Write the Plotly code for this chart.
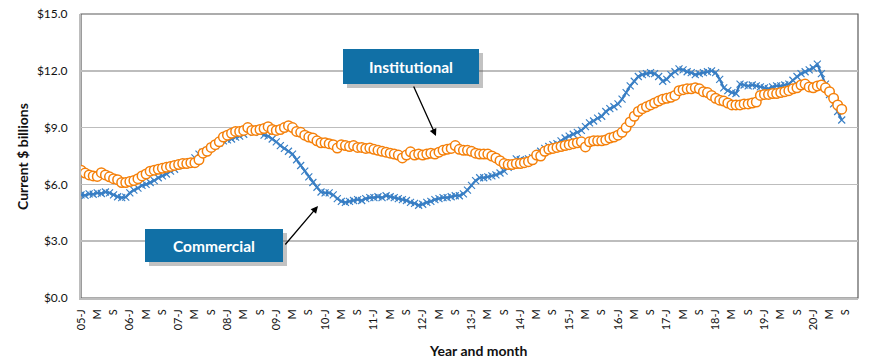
import plotly.graph_objects as go

# ---------------- data (monthly, Jan 2005 .. Aug 2020) ----------------
commercial = [
    # 2005
    5.45, 5.42, 5.50, 5.48, 5.55, 5.52, 5.60, 5.55, 5.45, 5.35, 5.30, 5.33,
    # 2006
    5.55, 5.70, 5.80, 5.95, 6.00, 6.10, 6.20, 6.35, 6.45, 6.55, 6.70, 6.80,
    # 2007
    7.00, 7.10, 7.15, 7.20, 7.40, 7.60, 7.70, 7.80, 7.95, 8.05, 8.20, 8.30,
    # 2008
    8.35, 8.40, 8.50, 8.55, 8.65, 8.75, 8.90, 8.85, 8.75, 8.60, 8.55, 8.40,
    # 2009
    8.25, 8.05, 7.90, 7.75, 7.60, 7.30, 7.00, 6.70, 6.40, 6.10, 5.85, 5.60,
    # 2010
    5.55, 5.55, 5.45, 5.25, 5.10, 5.05, 5.10, 5.15, 5.20, 5.15, 5.25, 5.30,
    # 2011
    5.30, 5.35, 5.30, 5.40, 5.35, 5.30, 5.25, 5.20, 5.15, 5.05, 5.00, 4.90,
    # 2012
    4.95, 5.05, 5.10, 5.20, 5.25, 5.30, 5.30, 5.35, 5.40, 5.40, 5.50, 5.70,
    # 2013
    5.95, 6.20, 6.35, 6.35, 6.40, 6.45, 6.50, 6.60, 6.70, 6.90, 7.10, 7.35,
    # 2014
    7.30, 7.25, 7.35, 7.40, 7.50, 7.75, 7.90, 8.00, 8.10, 8.15, 8.30, 8.45,
    # 2015
    8.55, 8.65, 8.75, 8.85, 9.05, 9.25, 9.35, 9.50, 9.60, 9.85, 10.00, 10.10,
    # 2016
    10.25, 10.50, 10.85, 11.20, 11.45, 11.70, 11.80, 11.85, 11.90, 11.85, 11.70, 11.45,
    # 2017
    11.55, 11.80, 11.95, 12.10, 12.05, 11.95, 11.90, 11.80, 11.85, 11.90, 11.95, 12.00,
    # 2018
    11.90, 11.55, 11.10, 10.95, 10.85, 10.80, 11.30, 11.25, 11.20, 11.25, 11.20, 11.15,
    # 2019
    11.10, 11.05, 11.15, 11.20, 11.20, 11.25, 11.30, 11.50, 11.70, 11.85, 11.95, 12.05,
    # 2020
    12.15, 12.35, 11.85, 11.30, 10.75, 10.25, 9.85, 9.40,
]

institutional = [
    # 2005
    6.75, 6.60, 6.50, 6.45, 6.42, 6.62, 6.50, 6.40, 6.30, 6.25, 6.10, 6.10,
    # 2006
    6.15, 6.20, 6.30, 6.45, 6.55, 6.70, 6.75, 6.80, 6.85, 6.90, 6.95, 7.00,
    # 2007
    7.05, 7.10, 7.10, 7.15, 7.15, 7.30, 7.65, 7.75, 7.95, 8.10, 8.25, 8.50,
    # 2008
    8.60, 8.70, 8.80, 8.80, 8.85, 9.00, 8.85, 8.85, 8.90, 8.95, 9.05, 8.90,
    # 2009
    8.85, 8.90, 9.00, 9.10, 9.00, 8.80, 8.75, 8.60, 8.50, 8.45, 8.30, 8.20,
    # 2010
    8.20, 8.15, 8.10, 7.92, 8.10, 8.05, 8.00, 8.05, 7.95, 7.95, 7.90, 7.92,
    # 2011
    7.85, 7.80, 7.75, 7.70, 7.65, 7.60, 7.55, 7.40, 7.55, 7.72, 7.55, 7.60,
    # 2012
    7.55, 7.60, 7.65, 7.60, 7.70, 7.80, 7.85, 7.90, 8.05, 7.85, 7.80, 7.80,
    # 2013
    7.75, 7.65, 7.60, 7.60, 7.60, 7.50, 7.40, 7.25, 7.10, 7.05, 7.05, 7.10,
    # 2014
    7.10, 7.15, 7.20, 7.30, 7.55, 7.50, 7.75, 7.85, 7.90, 7.95, 8.00, 8.05,
    # 2015
    8.10, 8.15, 8.20, 8.25, 7.98, 8.25, 8.30, 8.30, 8.30, 8.35, 8.45, 8.50,
    # 2016
    8.60, 8.75, 9.00, 9.30, 9.60, 9.85, 10.00, 10.10, 10.20, 10.30, 10.40, 10.50,
    # 2017
    10.55, 10.60, 10.70, 10.95, 11.00, 11.05, 11.05, 11.10, 11.05, 10.90, 10.85, 10.70,
    # 2018
    10.55, 10.45, 10.40, 10.30, 10.20, 10.20, 10.20, 10.25, 10.25, 10.30, 10.35, 10.70,
    # 2019
    10.75, 10.75, 10.80, 10.80, 10.85, 10.90, 10.95, 11.05, 11.10, 11.25, 11.30, 11.15,
    # 2020
    11.10, 11.20, 11.25, 11.10, 10.90, 10.55, 10.20, 9.97,
]

years = list(range(2005, 2021))
month_letters = ["J", "M", "S"]          # Jan, May, Sep
n_categories = len(years) * 12            # axis spans Jan 2005 .. Dec 2020

tick_vals = []
tick_text = []
for yi, yr in enumerate(years):
    for mi, m in enumerate([0, 4, 8]):
        tick_vals.append(yi * 12 + m)
        tick_text.append(f"{str(yr)[2:]}-J" if m == 0 else month_letters[mi])

x_com = list(range(len(commercial)))
x_ins = list(range(len(institutional)))

# ---------------- figure ----------------
FONT = "Lato"
W, H = 870, 364
L, R, T, B = 81, 12, 14, 66
PW, PH = W - L - R, H - T - B

def px(xp):
    return (xp - L) / PW

def py(yp):
    return (H - B - yp) / PH

fig = go.Figure()

fig.add_trace(go.Scatter(
    x=x_com, y=commercial, name="Commercial", mode="lines+markers",
    line=dict(color="#3478BE", width=2.2),
    marker=dict(symbol="x-thin", size=7, line=dict(color="#3A80C6", width=1.2)),
    showlegend=False, hoverinfo="skip",
))
fig.add_trace(go.Scatter(
    x=x_ins, y=institutional, name="Institutional", mode="markers",
    marker=dict(symbol="circle", size=9.5, color="white",
                line=dict(color="#F5800A", width=1.5)),
    showlegend=False, hoverinfo="skip",
))

shapes = []
# plot frame
shapes.append(dict(type="rect", xref="paper", yref="paper", x0=0, x1=1, y0=0, y1=1,
                   line=dict(color="#5A5A5A", width=1.2), layer="below"))

annotations = []

def label_box(x0, x1, y0, y1, text):
    shapes.append(dict(type="rect", xref="paper", yref="paper",
                       x0=px(x0 + 4), x1=px(x1 + 4), y0=py(y1 + 4), y1=py(y0 + 4),
                       fillcolor="rgba(80,80,80,0.35)", line=dict(width=0), layer="above"))
    shapes.append(dict(type="rect", xref="paper", yref="paper",
                       x0=px(x0), x1=px(x1), y0=py(y1), y1=py(y0),
                       fillcolor="#1170A6", line=dict(width=0), layer="above"))
    annotations.append(dict(xref="paper", yref="paper", x=px((x0 + x1) / 2), y=py((y0 + y1) / 2),
                            text=f"<b>{text}</b>", showarrow=False,
                            font=dict(family=FONT, size=15.5, color="white"),
                            xanchor="center", yanchor="middle"))

def arrow(x_tail, y_tail, x_head, y_head):
    annotations.append(dict(xref="paper", yref="paper", axref="pixel", ayref="pixel",
                            x=px(x_head), y=py(y_head),
                            ax=x_tail - x_head, ay=y_tail - y_head,
                            text="", showarrow=True, arrowhead=2, arrowsize=1.1,
                            arrowwidth=1.3, arrowcolor="black", standoff=0))

label_box(343, 479, 49, 84, "Institutional")
label_box(145, 283, 229, 262, "Commercial")
arrow(413, 85, 436, 136)
arrow(284, 246, 318, 206)

annotations.append(dict(xref="paper", yref="paper", x=px(478), y=py(350),
                        text="<b>Year and month</b>", showarrow=False,
                        font=dict(family=FONT, size=14, color="#111111"),
                        xanchor="center", yanchor="middle"))
annotations.append(dict(xref="paper", yref="paper", x=px(22), y=py(156),
                        text="<b>Current $ billions</b>", showarrow=False, textangle=-90,
                        font=dict(family=FONT, size=14, color="#111111"),
                        xanchor="center", yanchor="middle"))

fig.update_layout(
    width=W, height=H,
    margin=dict(l=L, r=R, t=T, b=B, pad=0, autoexpand=False),
    paper_bgcolor="white", plot_bgcolor="white",
    font=dict(family=FONT, color="#111111"),
    shapes=shapes, annotations=annotations,
    hovermode=False,
    xaxis=dict(
        range=[0, n_categories - 1], tickmode="array", tickvals=tick_vals, ticktext=tick_text,
        tickangle=-90, tickfont=dict(family=FONT, size=11, color="#111111"),
        showgrid=False, zeroline=False, showline=True, linecolor="#BDBDBD", linewidth=2,
        ticks="outside", ticklen=5, tickcolor="rgba(0,0,0,0)", automargin=False,
    ),
    yaxis=dict(
        range=[0, 15], tickvals=[0, 3, 6, 9, 12, 15], tickformat="$.1f",
        tickfont=dict(family=FONT, size=12, color="#111111"),
        showgrid=True, gridcolor="#BDBDBD", gridwidth=1.5, zeroline=False,
        showline=True, linecolor="#BDBDBD", linewidth=2,
        ticks="outside", ticklen=9, tickcolor="rgba(0,0,0,0)", automargin=False,
    ),
)

fig.write_html("out.html", config={"displayModeBar": False, "staticPlot": True},
               post_script="document.body.style.margin='0';document.body.style.padding='0';")
